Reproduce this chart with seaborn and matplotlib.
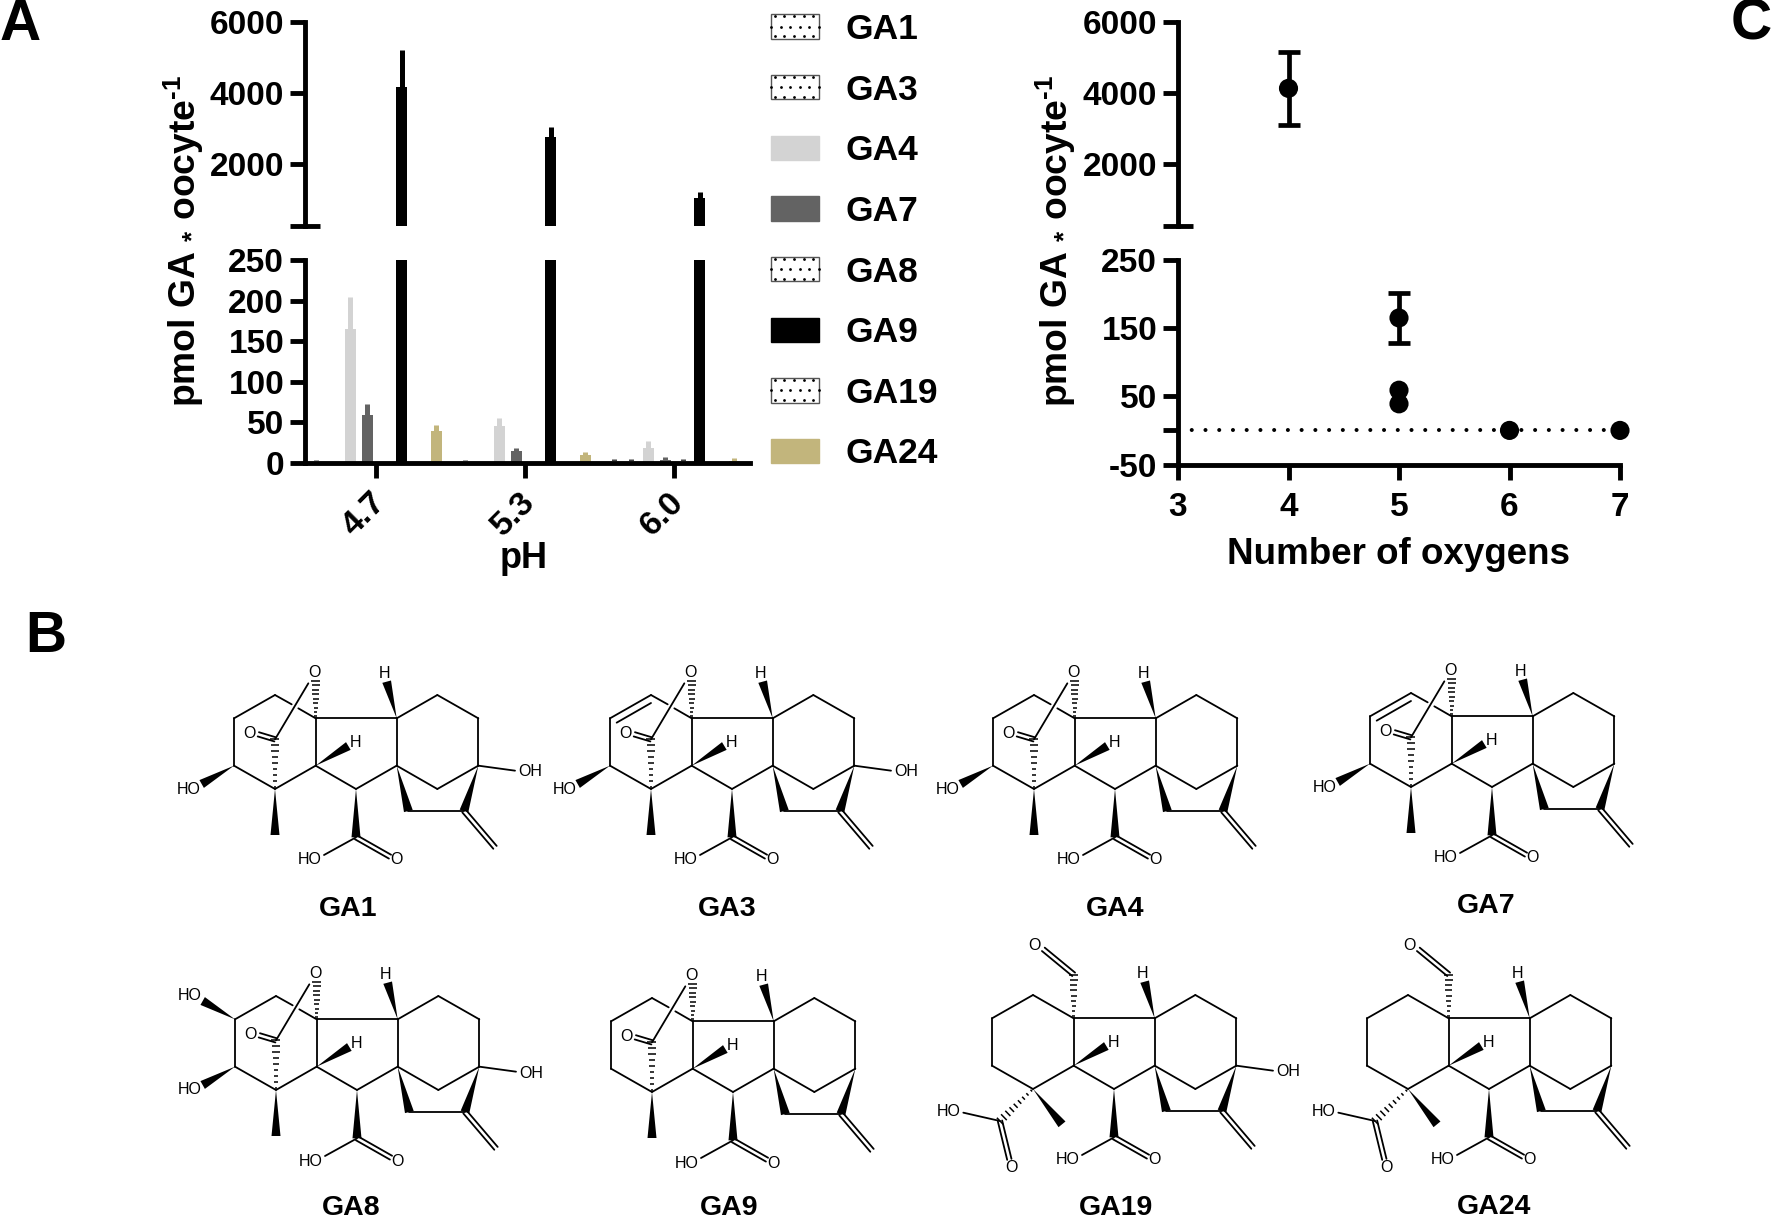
"""Gibberellin uptake in oocytes: bar chart, oxygen count plot and GA structures."""


# Import libraries and functions
import matplotlib
matplotlib.use('Agg')
import matplotlib.pyplot as plt
import matplotlib.transforms as mtrans
from matplotlib.legend_handler import HandlerPatch
from matplotlib.lines import Line2D
from matplotlib.patches import Patch, Polygon, Rectangle
import numpy as np
import pandas as pd
import seaborn as sns

sns.set_theme(style='white')
plt.rcParams['font.family'] = ['Liberation Sans', 'DejaVu Sans']
plt.rcParams['font.weight'] = 'bold'
plt.rcParams['mathtext.fontset'] = 'custom'
plt.rcParams['mathtext.rm'] = 'Liberation Sans:bold'
plt.rcParams['mathtext.default'] = 'rm'
plt.rcParams['axes.unicode_minus'] = False
plt.rcParams['text.color'] = 'black'
plt.rcParams['axes.labelcolor'] = 'black'
plt.rcParams['xtick.color'] = 'black'
plt.rcParams['ytick.color'] = 'black'


# Chart values
ph_labels = ['4.7', '5.3', '6.0']
ga_names = ['GA1', 'GA3', 'GA4', 'GA7', 'GA8', 'GA9', 'GA19', 'GA24']
ga_means = {
    'GA1': [2, 2, 2.5],
    'GA3': [0, 0, 2],
    'GA4': [165, 45, 19],
    'GA7': [59, 15, 4],
    'GA8': [0, 0, 2],
    'GA9': [4150, 2750, 1050],
    'GA19': [0, 0, 0],
    'GA24': [39, 10, 3],
}
ga_errors = {
    'GA1': [2, 2, 3],
    'GA3': [0, 0, 3],
    'GA4': [39, 10, 8],
    'GA7': [14, 4, 4],
    'GA8': [0, 0, 3],
    'GA9': [1050, 270, 150],
    'GA19': [0, 0, 0],
    'GA24': [8, 4, 3],
}
ga_colors = ['white', 'white', '#d3d3d3', '#636363', 'white', 'black', 'white', '#c2b57c']
ga_dotted = ['GA1', 'GA3', 'GA8', 'GA19']

oxygen_counts = [4, 5, 5, 5, 6, 7]
oxygen_means = [4120, 165, 59, 39, 0, 0]
oxygen_errors = [1020, 37, 0, 0, 0, 0]

# Structures: positions on the GA1 drawing, in px of a 3x crop
RING_BONDS = [
    ((222, 377), (222, 235)), ((222, 235), (345, 165)),
    ((467, 235), (467, 377)), ((467, 377), (345, 447)), ((345, 447), (222, 377)),
    ((467, 235), (710, 235)), ((710, 235), (710, 377)), ((710, 377), (588, 447)),
    ((588, 447), (467, 377)), ((710, 235), (832, 165)), ((832, 165), (955, 235)),
    ((955, 235), (955, 377)), ((955, 377), (832, 447)), ((832, 447), (710, 377)),
    ((745, 513), (912, 513)), ((588, 592), (492, 645)),
]
RING_DOUBLES = [((912, 513), (1005, 622)), ((588, 592), (690, 650))]
RING_WEDGES = [
    ((710, 235), (680, 125)), ((467, 377), (565, 318)), ((710, 377), (745, 513)),
    ((955, 377), (912, 513)), ((588, 447), (588, 592)),
]
RING_LABELS = [('H', 673, 100), ('H', 588, 308), ('HO', 450, 660), ('O', 708, 660)]
LACTONE_BONDS = [((345, 165), (395, 193)), ((415, 205), (467, 235)), ((345, 298), (445, 130))]
LACTONE_HASHES = [((345, 447), (345, 298)), ((467, 235), (467, 122))]
LACTONE_DOUBLES = [((345, 298), (295, 283))]
LACTONE_LABELS = [('O', 268, 280), ('O', 463, 97)]
LACTONE_WEDGES = [((345, 447), (345, 585))]
ACID_BONDS = [((345, 165), (467, 235)), ((246, 543), (136, 518))]
ACID_HASHES = [((467, 235), (467, 105)), ((345, 447), (246, 543))]
ACID_DOUBLES = [((467, 103), (376, 28)), ((246, 543), (274, 658))]
ACID_WEDGES = [((345, 447), (432, 553))]
ACID_LABELS = [('O', 350, 16), ('HO', 91, 514), ('O', 281, 684)]

structures = {
    'GA1': dict(dx=0, dy=0, lactone=True, oh13=True, oh3=True),
    'GA3': dict(dx=376, dy=0, lactone=True, oh13=True, oh3=True, ene=True),
    'GA4': dict(dx=759, dy=0, lactone=True, oh3=True),
    'GA7': dict(dx=1136, dy=-2, lactone=True, oh3=True, ene=True),
    'GA8': dict(dx=1, dy=301, lactone=True, oh13=True, oh3=True, oh2=True),
    'GA9': dict(dx=377, dy=303, lactone=True),
    'GA19': dict(dx=758, dy=300, oh13=True),
    'GA24': dict(dx=1133, dy=300),
}
structure_labels = {
    'GA1': (348, 909), 'GA3': (727, 909), 'GA4': (1115, 909), 'GA7': (1486, 906),
    'GA8': (351, 1208), 'GA9': (729, 1208), 'GA19': (1116, 1208), 'GA24': (1494, 1207),
}


# Layout of the figure, in px
FIG_W, FIG_H = 1772, 1222
SPINE_LW = 3.5
TICK_SIZE = 24
LABEL_SIZE = 26.8


class DottedSwatch(HandlerPatch):
    """Legend swatch with a few sparse dots, as a white box with a grey edge."""

    def create_artists(self, legend, orig_handle, xdescent, ydescent, width, height, fontsize, trans):
        box = Rectangle((-xdescent, -ydescent), width, height, facecolor='white', edgecolor='#555555', linewidth=1, transform=trans)
        dot_x, dot_y = [], []
        for frac_y, start in [(0.92, 0.08), (0.5, 0.0), (0.1, 0.08)]:
            for k in range(6):
                frac_x = start + k * 0.2
                if frac_x <= 1:
                    dot_x.append(-xdescent + frac_x * width)
                    dot_y.append(-ydescent + frac_y * height)
        dots = Line2D(dot_x, dot_y, ls='none', marker='o', ms=2.0, color='black', mew=0, transform=trans)
        return [box, dots]


def px_axes(fig, left, top, right, bottom, **kwargs):
    """Add an axes placed by its pixel edges (y from the top)."""
    return fig.add_axes([left / FIG_W, 1 - bottom / FIG_H, (right - left) / FIG_W, (bottom - top) / FIG_H], **kwargs)


def style_broken_axis(ax, upper):
    """Give one half of a broken y axis its thick spines and ticks."""
    sns.despine(ax=ax, top=True, right=True, bottom=upper)
    for side in ['left', 'bottom']:
        ax.spines[side].set_linewidth(SPINE_LW)
        ax.spines[side].set_color('black')
    ax.tick_params(axis='both', which='major', length=11, width=SPINE_LW, color='black', labelsize=TICK_SIZE, pad=4, left=True, bottom=not upper)
    ax.patch.set_alpha(0)
    ax.set_xlabel('')
    ax.set_ylabel('')
    if upper:
        ax.set_yticks([2000, 4000, 6000])
        ax.set_yticks([250], minor=True)
        ax.tick_params(axis='y', which='minor', direction='inout', length=22, width=SPINE_LW, color='black', left=True)
        ax.set_xticks([])
        ax.set_ylim(250, 6000)
    else:
        ax.tick_params(axis='y', which='minor', direction='in', length=11, width=SPINE_LW, color='black', left=True)


def plot_bars(ax):
    """Draw the grouped bars with one-sided error bars on one half of the axis."""
    rows = pd.DataFrame([
        {'pH': ph, 'GA': name, 'value': ga_means[name][i]}
        for name in ga_names for i, ph in enumerate(ph_labels)
    ])
    sns.barplot(data=rows, x='pH', y='value', hue='GA', hue_order=ga_names, order=ph_labels,
                palette=ga_colors, width=0.923, gap=0.36, saturation=1, legend=False,
                errorbar=None, ax=ax, zorder=2)
    # Error bars go on top of each bar, same colour as the bar (dark for the tiny white ones)
    for j, name in enumerate(ga_names):
        ecolor = '#444444' if name in ga_dotted else ga_colors[j]
        for i, bar in enumerate(ax.containers[j]):
            bar.set_linewidth(0)
            if ga_errors[name][i] > 0:
                ax.errorbar(bar.get_x() + bar.get_width() / 2, ga_means[name][i],
                            yerr=[[0], [ga_errors[name][i]]], ecolor=ecolor, elinewidth=3.6, capsize=0, zorder=1.9)
    ax.set_xlim(-0.477, 2.51)


def plot_oxygens(ax, low, high):
    """Draw the oxygen count points that fall inside one half of the axis."""
    keep = [low <= m <= high for m in oxygen_means]
    xs = [x for x, k in zip(oxygen_counts, keep) if k]
    ys = [m for m, k in zip(oxygen_means, keep) if k]
    errs = [e for e, k in zip(oxygen_errors, keep) if k]
    if low <= 0:
        ax.axhline(0, color='black', lw=2.9, ls=(0, (0.01, 3.4)), dash_capstyle='round', zorder=1)
    for x, y, e in zip(xs, ys, errs):
        if e > 0:
            ax.errorbar(x, y, yerr=e, fmt='none', ecolor='black', elinewidth=3.4, capsize=8, capthick=3.4, zorder=2)
    sns.scatterplot(x=xs, y=ys, color='black', s=190, edgecolor='none', ax=ax, zorder=3, clip_on=False)
    ax.set_xlim(3, 7)


def hash_bond(ax, start, end, n=7):
    """Draw a hashed stereo bond widening towards its end."""
    start, end = np.array(start, float), np.array(end, float)
    unit = (end - start) / np.linalg.norm(end - start)
    normal = np.array([-unit[1], unit[0]])
    for t in np.linspace(0.05, 1, n):
        mid = start + (end - start) * t
        half = 1 + 3.5 * t
        ax.plot(*zip(mid - normal * half, mid + normal * half), color='black', lw=1.1, solid_capstyle='butt')


def wedge_bond(ax, start, end):
    """Draw a filled stereo wedge."""
    start, end = np.array(start, float), np.array(end, float)
    unit = (end - start) / np.linalg.norm(end - start)
    normal = np.array([-unit[1], unit[0]])
    ax.add_patch(Polygon([start, end + normal * 4.5, end - normal * 4.5], closed=True, color='black', lw=0))


def double_bond(ax, start, end, gap=2.2):
    """Draw a double bond as two parallel lines."""
    start, end = np.array(start, float), np.array(end, float)
    unit = (end - start) / np.linalg.norm(end - start)
    normal = np.array([-unit[1], unit[0]])
    for side in [-1, 1]:
        ax.plot(*zip(start + normal * gap * side, end + normal * gap * side), color='black', lw=1.3)


def draw_structure(ax, dx, dy, lactone=False, oh13=False, oh3=False, oh2=False, ene=False):
    """Draw one gibberellin on the overlay axes, shifted from the GA1 drawing."""
    def pt(p):
        return (160 + p[0] / 3 + dx, 640 + p[1] / 3 + dy)

    def atom(text, x, y):
        ax.text(*pt((x, y)), text, fontsize=11.5, fontweight='normal', ha='center', va='center')

    bonds = list(RING_BONDS)
    doubles = list(RING_DOUBLES)
    wedges = list(RING_WEDGES)
    labels = list(RING_LABELS)
    hashes = []
    if lactone:
        bonds += LACTONE_BONDS
        hashes += LACTONE_HASHES
        doubles += LACTONE_DOUBLES
        wedges += LACTONE_WEDGES
        labels += LACTONE_LABELS
    else:
        bonds += ACID_BONDS
        hashes += ACID_HASHES
        doubles += ACID_DOUBLES
        wedges += ACID_WEDGES
        labels += ACID_LABELS
    if oh13:
        bonds.append(((955, 377), (1065, 392)))
        labels.append(('OH', 1110, 396))
    if oh3:
        wedges.append(((222, 377), (125, 432)))
        labels.append(('HO', 85, 447))
    if oh2:
        wedges.append(((222, 235), (125, 180)))
        labels.append(('HO', 85, 165))
    if ene:
        bonds.append(((242, 248), (345, 189)))

    for a, b in bonds:
        ax.plot(*zip(pt(a), pt(b)), color='black', lw=1.3, solid_capstyle='round')
    for a, b in doubles:
        double_bond(ax, pt(a), pt(b))
    for a, b in wedges:
        wedge_bond(ax, pt(a), pt(b))
    for a, b in hashes:
        hash_bond(ax, pt(a), pt(b), n=9)
    for text, x, y in labels:
        atom(text, x, y)


# Build the figure
fig = plt.figure(figsize=(FIG_W / 100, FIG_H / 100), dpi=100, facecolor='white')

# Structures and panel letters sit on an overlay in pixel coordinates
overlay = fig.add_axes([0, 0, 1, 1], zorder=0)
overlay.set_xlim(0, FIG_W)
overlay.set_ylim(FIG_H, 0)
overlay.axis('off')
for name, spec in structures.items():
    draw_structure(overlay, **spec)
    overlay.text(*structure_labels[name], name, fontsize=20.5, fontweight='bold', ha='center', va='center')
for letter, x, y in [('A', 0, 25), ('B', 25, 637), ('C', 1731, 25)]:
    overlay.text(x, y, letter, fontsize=41, fontweight='bold', ha='left', va='center', clip_on=True)

# Panel A
ax_a_top = px_axes(fig, 305, 21.5, 750, 226, zorder=2)
plot_bars(ax_a_top)
style_broken_axis(ax_a_top, True)
ax_a_low = px_axes(fig, 305, 260, 750, 463, zorder=2)
plot_bars(ax_a_low)
ax_a_low.set_ylim(0, 250)
ax_a_low.set_yticks([0, 50, 100, 150, 200, 250])
ax_a_low.set_yticks([250], minor=True)
style_broken_axis(ax_a_low, False)
ax_a_low.set_xticks(range(3))
ax_a_low.set_xticklabels(ph_labels, rotation=45, ha='right', rotation_mode='anchor', fontsize=24.5)
ax_a_low.tick_params(axis='x', pad=6)
shift = mtrans.ScaledTranslation(-6 / 100, 0, fig.dpi_scale_trans)
for lab in ax_a_low.get_xticklabels():
    lab.set_transform(lab.get_transform() + shift)
overlay.text(524, 558, 'pH', fontsize=26, fontweight='bold', ha='center', va='center')

# Panel C
ax_c_top = px_axes(fig, 1178, 21.5, 1620, 226, zorder=2)
plot_oxygens(ax_c_top, 250, 6000)
style_broken_axis(ax_c_top, True)
ax_c_low = px_axes(fig, 1178, 260, 1620, 464.5, zorder=2)
plot_oxygens(ax_c_low, -50, 250)
ax_c_low.set_ylim(-50, 250)
ax_c_low.set_yticks([-50, 0, 50, 150, 250])
ax_c_low.set_yticklabels(['-50', '', '50', '150', '250'])
ax_c_low.set_yticks([250], minor=True)
style_broken_axis(ax_c_low, False)
ax_c_low.set_xticks([3, 4, 5, 6, 7])
ax_c_low.tick_params(axis='x', pad=9)
overlay.text(1399, 554, 'Number of oxygens', fontsize=26.5, fontweight='bold', ha='center', va='center')

# Shared y labels of both panels
for x in [184, 1056]:
    overlay.text(x, 241, r'pmol GA $_{*}$ oocyte$^{\text{-}1}$', fontsize=LABEL_SIZE, fontweight='bold',
                 rotation=90, ha='center', va='center')

# Legend
handles = []
handler_map = {}
for name, color in zip(ga_names, ga_colors):
    handle = Patch(facecolor=color, edgecolor=color, linewidth=1, label=name)
    handles.append(handle)
    if name in ga_dotted:
        handler_map[handle] = DottedSwatch()
fig.legend(handles=handles, handler_map=handler_map, loc='upper left', bbox_to_anchor=(771 / FIG_W, 1 - 13 / FIG_H), frameon=False,
           fontsize=25.5, handlelength=1.356, handleheight=0.68, handletextpad=0.76,
           labelspacing=0.78, borderpad=0, borderaxespad=0)

fig.savefig('out.png', dpi=100, facecolor='white')
